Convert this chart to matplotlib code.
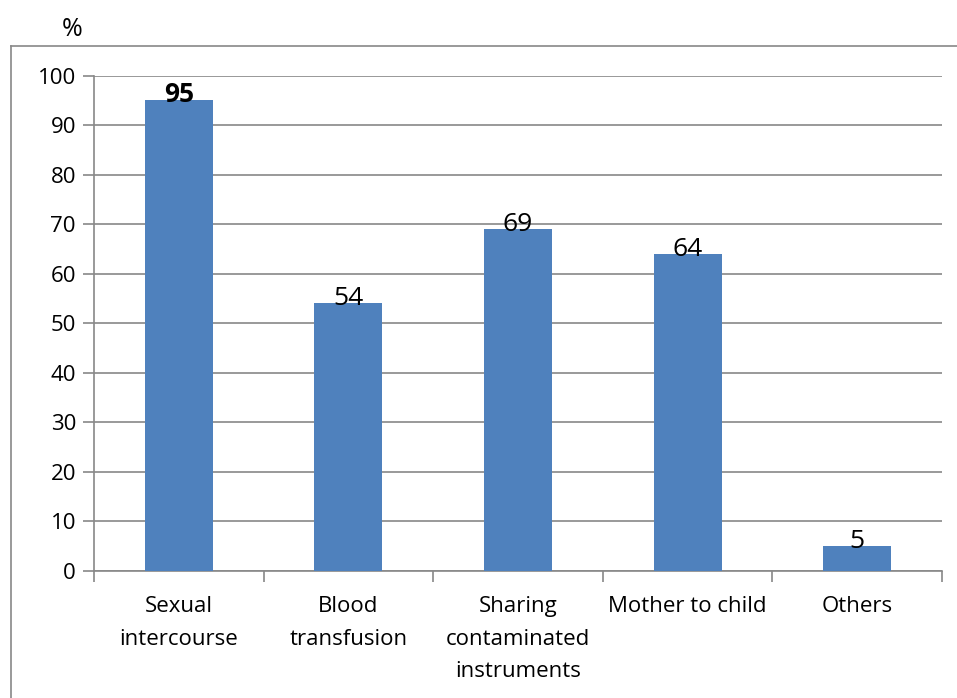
import matplotlib.pyplot as plt
from matplotlib.lines import Line2D

plt.rcParams['font.family'] = ['Open Sans', 'DejaVu Sans']

categories = ["Sexual\nintercourse", "Blood\ntransfusion", "Sharing\ncontaminated\ninstruments",
              "Mother to child", "Others"]
values = [95, 54, 69, 64, 5]
bold_labels = [True, False, False, False, False]

W, H = 957, 698
fig = plt.figure(figsize=(W / 100, H / 100), dpi=100)
ax = fig.add_axes([94 / W, 1 - 571 / H, (942 - 94) / W, (571 - 75.5) / H])

x = range(len(values))
ax.bar(x, values, width=0.4, color='#4F81BD', zorder=3)
ax.set_xlim(-0.5, len(values) - 0.5)
ax.set_ylim(0, 100)
ax.set_yticks(range(0, 101, 10))
ax.yaxis.grid(True, color='#888888', linewidth=1.2, zorder=0)

for i, v in enumerate(values):
    ax.text(i, v - 1.6, str(v), ha='center', va='bottom', fontsize=19,
            fontweight='bold' if bold_labels[i] else 'normal', zorder=4)

ax.set_xticks([i + 0.5 for i in range(-1, len(values))], minor=False)
ax.set_xticklabels([''] * (len(values) + 1))
ax.set_xticks(list(x), minor=True)
ax.set_xticklabels(categories, minor=True, fontsize=16, linespacing=1.72)
ax.tick_params(axis='x', which='major', length=8, color='#888888', width=1.2)
ax.tick_params(axis='x', which='minor', length=0, pad=18)
ax.tick_params(axis='y', length=8, color='#888888', width=1.2, labelsize=16, pad=5)

for s in ['top', 'right']:
    ax.spines[s].set_visible(False)
for s in ['left', 'bottom']:
    ax.spines[s].set_color('#888888')
    ax.spines[s].set_linewidth(1.2)

# chart frame (open on the right and bottom)
fig.add_artist(Line2D([11 / W, 11 / W], [0, 1 - 46 / H], transform=fig.transFigure,
                      color='#888888', linewidth=1.2))
fig.add_artist(Line2D([11 / W, 1], [1 - 46 / H, 1 - 46 / H], transform=fig.transFigure,
                      color='#888888', linewidth=1.2))

fig.text(72 / W, 1 - 30 / H, '%', ha='center', va='center', fontsize=18)

fig.savefig('out.png', dpi=100)
